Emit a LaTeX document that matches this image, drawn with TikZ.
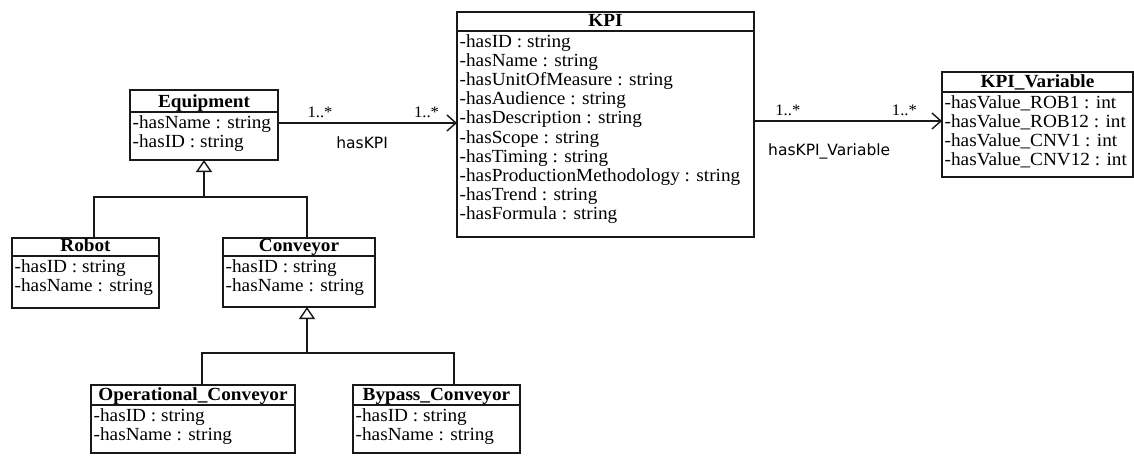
\documentclass[tikz,border=0pt]{standalone}
\usepackage{fontspec}
\setmainfont{Liberation Serif}[FakeStretch=1.04]
\newfontfamily\lblsans{DejaVu Sans}
\usetikzlibrary{arrows.meta,calc}
\tikzset{
 line/.style={line width=1.4pt, draw=black!90},
 clsbox/.style={line, rectangle, inner sep=0pt, outer sep=0pt, fill=white},
 ttl/.style={font=\fontsize{18.5}{19}\selectfont\bfseries, inner sep=0pt, anchor=base},
 attr/.style={font=\fontsize{18.5}{19}\selectfont, inner sep=0pt, anchor=base west},
 assoc/.style={line, -{Straight Barb[length=9pt,width=16pt,line width=1.4pt]}},
 gen/.style={line, -{Triangle[open,length=12pt,width=16pt,line width=1.4pt]}},
 mult/.style={font=\fontsize{16}{16}\selectfont, inner sep=0pt},
 rname/.style={font=\lblsans\fontsize{15.5}{16}\selectfont, inner sep=0pt},
}
% name, x, y, w, h, header height, title, attributes
\newcommand\umlcls[8]{%
 \node[clsbox, minimum width=#4pt, minimum height=#5pt, anchor=north west] (#1) at (#2,#3) {};
 \draw[line] ([yshift=-#6pt]#1.north west) -- ([yshift=-#6pt]#1.north east);
 \node[ttl] (#1-t) at ([yshift=-#6pt+5pt]#1.north) {#7};
 \foreach \a [count=\i from 0] in {#8} {
  \node[attr] (#1-a\i) at ([xshift=2.5pt,yshift=-#6pt-16pt-\i*19.2pt]#1.north west) {\a};
 }
}
\begin{document}
\begin{tikzpicture}[x=1pt,y=-1pt]
\useasboundingbox (0,0) rectangle (1134,455);
\fill[white] (0,0) rectangle (1134,455);

\umlcls{eq}{130}{90}{148}{70}{22}{Equipment}{-hasName : string,-hasID : string}
\umlcls{robot}{12}{238}{147}{70}{18}{Robot}{-hasID : string,-hasName : string}
\umlcls{conv}{223}{238}{152}{69}{18}{Conveyor}{-hasID : string,-hasName : string}
\umlcls{opc}{91}{385}{204}{68}{20}{Operational\_Conveyor}{-hasID : string,-hasName : string}
\umlcls{byp}{353}{385}{167}{68}{20}{Bypass\_Conveyor}{-hasID : string,-hasName : string}
\umlcls{kpi}{457}{12}{297}{225}{19}{KPI}{-hasID : string,-hasName : string,-hasUnitOfMeasure : string,-hasAudience : string,-hasDescription : string,-hasScope : string,-hasTiming : string,-hasProductionMethodology : string,-hasTrend : string,-hasFormula : string}
\umlcls{kv}{942}{72}{191}{105}{20}{KPI\_Variable}{-hasValue\_ROB1 : int,-hasValue\_ROB12 : int,-hasValue\_CNV1 : int,-hasValue\_CNV12 : int}

% associations
\draw[assoc] ([yshift=2pt]eq.east) -- ([yshift=2pt]eq.east -| kpi.west)
  node[mult, pos=0.235, above=5pt] (m1) {1..*}
  node[mult, pos=0.83, above=5pt] (m2) {1..*}
  node[rname, pos=0.47, below=13pt] (r1) {hasKPI};
\draw[assoc] ([yshift=3.5pt]kv.west -| kpi.east) -- ([yshift=3.5pt]kv.west)
  node[mult, pos=0.18, above=5pt] (m3) {1..*}
  node[mult, pos=0.80, above=5pt] (m4) {1..*}
  node[rname, pos=0.40, below=22pt] (r2) {hasKPI\_Variable};

% generalizations
\coordinate (j1) at ([yshift=-37pt]eq.south);
\draw[line] ([xshift=8.5pt]robot.north) |- (j1);
\draw[line] ([xshift=8pt]conv.north) |- (j1);
\draw[gen] (j1) -- (eq.south);

\coordinate (j2) at ([xshift=8pt,yshift=-46pt]conv.south);
\draw[line] ([xshift=9pt]opc.north) |- (j2);
\draw[line] ([xshift=17.5pt]byp.north) |- (j2);
\draw[gen, line width=2pt] (j2) -- ([xshift=8pt]conv.south);
\end{tikzpicture}
\end{document}
